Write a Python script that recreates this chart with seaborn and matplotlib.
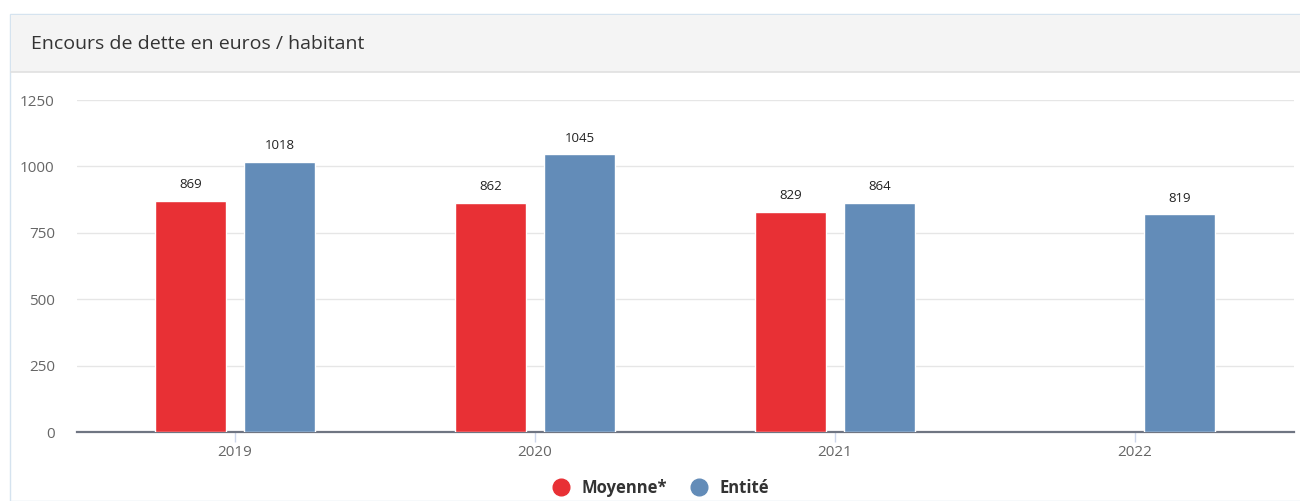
import matplotlib
matplotlib.use("Agg")
import matplotlib.pyplot as plt
import seaborn as sns
import pandas as pd
import numpy as np
from matplotlib.lines import Line2D
from matplotlib.patches import Rectangle

# ---- data ----
years = ["2019", "2020", "2021", "2022"]
moyenne = [869, 862, 829, np.nan]
entite = [1018, 1045, 864, 819]
series_names = ["Moyenne*", "Entité"]
colors = ["#e83035", "#638cb8"]
title = "Encours de dette en euros / habitant"
yticks = [0, 250, 500, 750, 1000, 1250]

df = pd.DataFrame({
    "year": years * 2,
    "value": moyenne + entite,
    "serie": [series_names[0]] * len(years) + [series_names[1]] * len(years),
})

sns.set_theme(style="white")
plt.rcParams["font.family"] = ["Open Sans", "DejaVu Sans"]

W, H = 1300, 501
fig = plt.figure(figsize=(W / 100, H / 100), dpi=100)

# panel frame and header
fig.patches.append(Rectangle((10 / W, 0), 1, 1 - 14 / H, transform=fig.transFigure,
                             facecolor="white", edgecolor="#d5e3ef", linewidth=1, zorder=-2))
fig.patches.append(Rectangle((11 / W, 1 - 72 / H), 1, (72 - 15) / H, transform=fig.transFigure,
                             facecolor="#f4f4f4", edgecolor="none", zorder=-1.5))
fig.lines.append(Line2D([11 / W, 1], [1 - 72 / H] * 2, transform=fig.transFigure,
                        color="#e0e0e0", linewidth=1.2, zorder=-1.4))
fig.text(31 / W, 1 - 44 / H, title, fontsize=14, color="#333333", va="center", ha="left")

ax = fig.add_axes([77 / W, (H - 432) / H, (1294 - 77) / W, (432 - 100) / H])
ax.set_zorder(1)
ax.patch.set_visible(False)
sns.barplot(data=df, x="year", y="value", hue="serie", palette=colors, width=0.593,
            gap=0.2, saturation=1, ax=ax, edgecolor="white", linewidth=1, legend=False,
            zorder=3)

ax.set_xlim((77 - 235) / 300, (1294 - 235) / 300)
ax.set_ylim(0, 1250)
ax.set_yticks(yticks)
ax.set_yticklabels([str(t) for t in yticks])
ax.grid(axis="y", color="#e6e6e6", linewidth=1)
ax.set_axisbelow(True)
for s in ["top", "right", "left"]:
    ax.spines[s].set_visible(False)
ax.spines["bottom"].set_color("#6f7582")
ax.spines["bottom"].set_linewidth(1.6)
ax.spines["bottom"].set_zorder(2)
ax.set_xlabel("")
ax.set_ylabel("")
ax.tick_params(axis="y", length=0, labelsize=11, labelcolor="#666666", pad=16)
ax.tick_params(axis="x", length=7, width=1, color="#ccd6eb", labelsize=11,
               labelcolor="#666666", pad=2, direction="out", bottom=True)

# data labels
for cont in ax.containers:
    for bar in cont:
        h = bar.get_height()
        if np.isnan(h) or h == 0:
            continue
        ax.annotate(f"{int(round(h))}", (bar.get_x() + bar.get_width() / 2, h),
                    xytext=(0, 7), textcoords="offset points", ha="center", va="bottom",
                    fontsize=9.5, color="#222222")

handles = [Line2D([], [], marker="o", linestyle="", markersize=12, markerfacecolor=c,
                  markeredgecolor=c) for c in colors]
fig.legend(handles, series_names, loc="center", bbox_to_anchor=(657 / W, 1 - 488 / H),
           ncol=2, frameon=False, prop={"weight": "bold", "size": 12},
           handletextpad=0.25, columnspacing=0.9, labelcolor="#333333")

fig.savefig("out.png", dpi=100)
